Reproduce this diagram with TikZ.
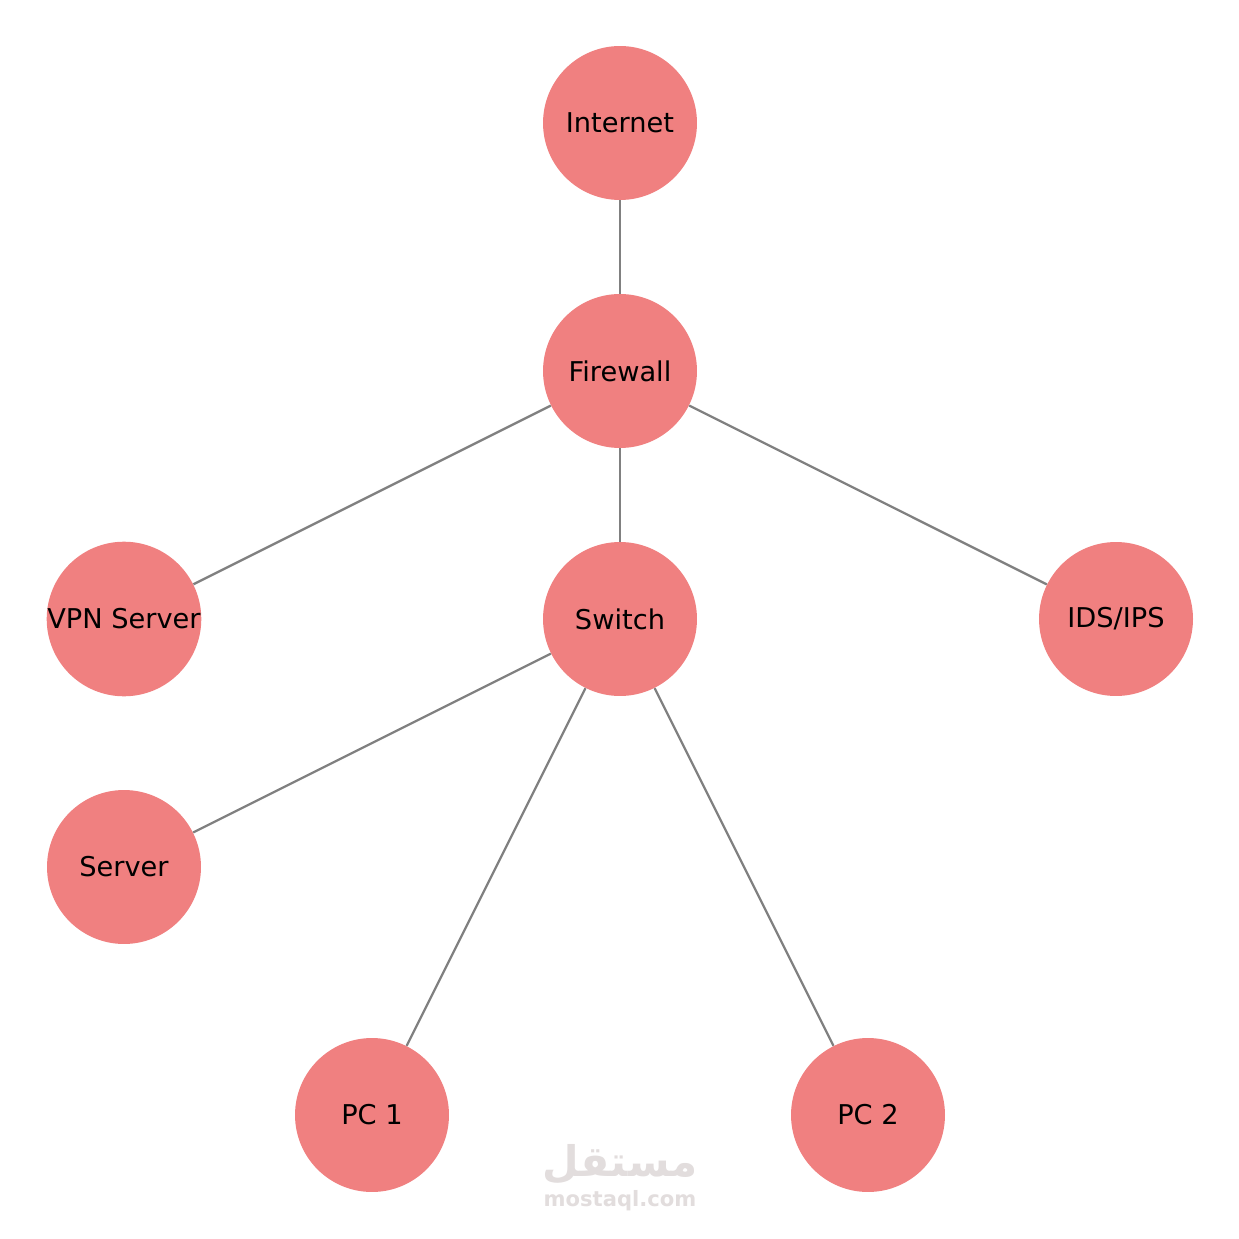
\documentclass[tikz,border=0pt]{standalone}
\usepackage{fontspec}
\setmainfont{DejaVu Sans}
\newfontfamily\arabicfont[Script=Arabic]{DejaVu Sans}
\TeXXeTstate=1
\definecolor{nodefill}{HTML}{F08080}
\definecolor{edgegray}{HTML}{808080}
\definecolor{wmark}{HTML}{E2DDDD}
\begin{document}
\begin{tikzpicture}[x=0.02cm,y=-0.02cm,
  netnode/.style={circle,fill=nodefill,minimum size=3.08cm,inner sep=0pt,font=\fontsize{15.5}{18}\selectfont},
  link/.style={draw=edgegray,line width=0.045cm}]
\useasboundingbox[fill=white] (0,0) rectangle (1239,1239);
\node[netnode] (internet) at (620,123) {Internet};
\node[netnode] (firewall) at (620,371) {Firewall};
\node[netnode] (switch) at (620,619) {Switch};
\node[netnode] (vpn) at (124,619) {VPN Server};
\node[netnode] (ids) at (1116,619) {IDS/IPS};
\node[netnode] (server) at (124,867) {Server};
\node[netnode] (pc1) at (372,1115) {PC 1};
\node[netnode] (pc2) at (868,1115) {PC 2};
\path[link] (internet) -- (firewall);
\path[link] (firewall) -- (switch);
\path[link] (firewall) -- (vpn);
\path[link] (firewall) -- (ids);
\path[link] (switch) -- (server);
\path[link] (switch) -- (pc1);
\path[link] (switch) -- (pc2);
\node[text=wmark,inner sep=0pt,font=\arabicfont\bfseries\fontsize{24}{26}\selectfont] (wmar) at (620,1164) {\beginR مستقل\endR};
\node[text=wmark,inner sep=0pt,font=\bfseries\fontsize{12}{14}\selectfont] (wmen) at (620,1201) {mostaql.com};
\end{tikzpicture}
\end{document}
